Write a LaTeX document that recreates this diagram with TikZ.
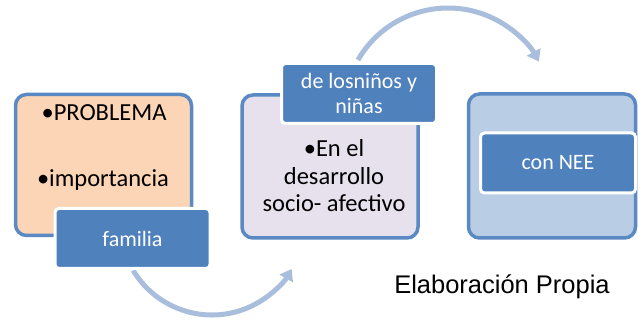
\documentclass[tikz,border=0pt]{standalone}
\usepackage{fontspec}
\setmainfont{Carlito}
\newfontfamily\arialf{Liberation Sans}
\usetikzlibrary{arrows.meta}
\definecolor{bordblue}{HTML}{5A89C3}
\definecolor{labblue}{HTML}{4F81BD}
\definecolor{peach}{HTML}{FBD5B6}
\definecolor{lav}{HTML}{E6E1ED}
\definecolor{lblue}{HTML}{B9CDE5}
\definecolor{arrowc}{HTML}{A9BEDC}
\tikzset{
  bigbox/.style={draw=bordblue, line width=3.5pt, rounded corners=11pt, anchor=center, inner sep=0pt},
  labbox/.style={draw=white, line width=3pt, fill=labblue, rounded corners=4pt, anchor=center,
    minimum width=155pt, minimum height=60pt, text=white, font=\fontsize{22}{26}\selectfont, align=center, inner sep=0pt},
  boxtext/.style={font=\fontsize{24.5}{27.5}\selectfont, align=center, anchor=center, inner sep=0pt},
  bigarrow/.style={draw=arrowc, line width=5pt, -{Triangle[width=15pt,length=11pt]}}
}
\begin{document}
\begin{tikzpicture}[x=1pt,y=-1pt]
\useasboundingbox (0,0) rectangle (638,320);
% box 1
\node[bigbox, fill=peach, minimum width=176pt, minimum height=141pt] (b1) at (103.5,165) {};
\node[boxtext] (t1a) at (104,113) {•PROBLEMA};
\node[boxtext] (t1b) at (103,180) {•importancia};
% arrow 1
\path (212,223) ++(149:92) coordinate (a1s);
\draw[bigarrow] (a1s) arc[start angle=149, end angle=30, radius=92];
\node[labbox] (l1) at (132.5,238.5) {familia};
% box 2
\node[bigbox, fill=lav, minimum width=176pt, minimum height=143pt] (b2) at (330,166.5) {};
\node[boxtext] (t2) at (334,176) {•En el\\desarrollo\\socio- afectivo};
% arrow 2
\path (448,112) ++(-150:104) coordinate (a2s);
\draw[bigarrow] (a2s) arc[start angle=-150, end angle=-29, radius=104];
\node[labbox, font=\fontsize{22}{25}\selectfont] (l2) at (359,93.5) {de losniños y\\niñas};
% box 3
\node[bigbox, fill=lblue, minimum width=167pt, minimum height=144pt] (b3) at (552,166) {};
\node[labbox] (l3) at (558,163) {con NEE};
% caption
\node[font=\arialf\fontsize{25.5}{28}\selectfont, anchor=base, inner sep=0pt] (cap) at (502,294) {Elaboración Propia};
\end{tikzpicture}
\end{document}
